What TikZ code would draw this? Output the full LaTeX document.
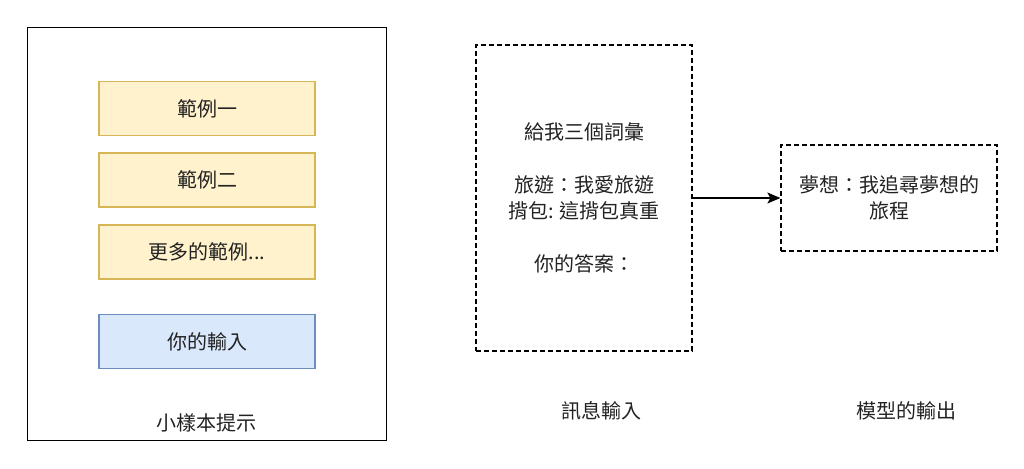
\documentclass[tikz,border=0pt]{standalone}
\usepackage{fontspec}
\setmainfont{Noto Sans CJK TC}
\usetikzlibrary{arrows.meta}
\definecolor{exfill}{HTML}{FFF2CC}
\definecolor{exline}{HTML}{D6B656}
\definecolor{infill}{HTML}{DAE8FC}
\definecolor{inline}{HTML}{6C8EBF}
\definecolor{ink}{HTML}{222222}

\begin{document}
\begin{tikzpicture}[x=1pt,y=-1pt,line width=1.3pt,text=ink,
  font=\fontsize{20}{26.5}\selectfont,
  slot/.style={minimum width=216pt,minimum height=54pt,line width=1.3pt,inner sep=0pt},
  dashbox/.style={draw,dash pattern=on 5pt off 3pt,align=center}]
\useasboundingbox (0,0) rectangle (1024,468);
\node[draw,minimum width=359pt,minimum height=413pt,inner sep=0pt] (fewshot) at (207,234) {};
\node[slot,draw=exline,fill=exfill] (ex1) at (207,108.5) {範例一};
\node[slot,draw=exline,fill=exfill] (ex2) at (207,180) {範例二};
\node[slot,draw=exline,fill=exfill] (exmore) at (207,252) {更多的範例...};
\node[slot,draw=inline,fill=infill] (myinput) at (207,341.5) {你的輸入};
\node (fewlabel) at (206,423) {小樣本提示};
\node[dashbox,minimum width=216pt,minimum height=306pt] (msg) at (584,198)
  {給我三個詞彙\\ \mbox{}\\ 旅遊：我愛旅遊\\揹包: 這揹包真重\\ \mbox{}\\ 你的答案：};
\node[dashbox,minimum width=216pt,minimum height=106pt,text width=206pt] (reply) at (889,198)
  {夢想：我追尋夢想的\\旅程};
\draw[-{Stealth[length=13pt,width=11pt,inset=3pt]}] (msg.east) -- (reply.west);
\node (msglabel) at (601,411) {訊息輸入};
\node (replylabel) at (906,411) {模型的輸出};
\end{tikzpicture}
\end{document}
